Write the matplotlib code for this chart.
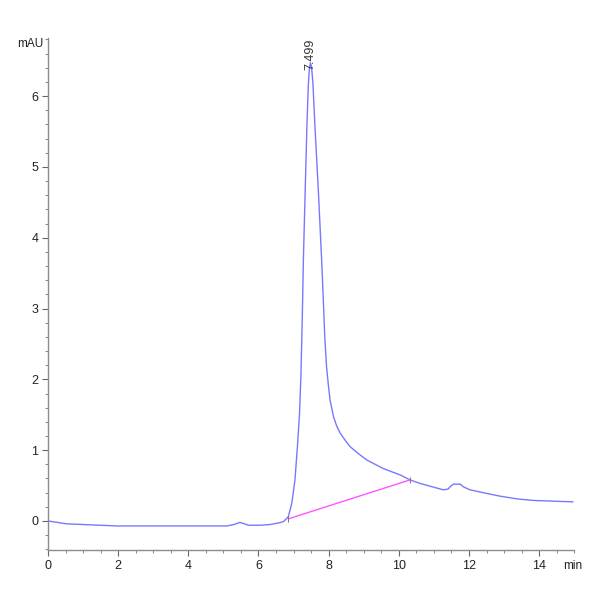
import matplotlib
matplotlib.use("Agg")
import matplotlib.pyplot as plt
from matplotlib.ticker import MultipleLocator, FixedLocator

# Chromatogram trace (time in min, signal in mAU)
time_min = [0.0, 0.53, 1.0, 1.96, 3.0, 3.39, 4.0, 5.1, 5.3, 5.47, 5.6, 5.71,
            6.05, 6.33, 6.55, 6.71, 6.85, 6.95, 7.04, 7.11, 7.17, 7.21, 7.25,
            7.28, 7.33, 7.38, 7.42, 7.45, 7.48, 7.51, 7.55, 7.61, 7.71, 7.80,
            7.85, 7.89, 7.94, 7.99, 8.04, 8.14, 8.23, 8.33, 8.47, 8.61, 8.85,
            9.09, 9.56, 10.04, 10.32, 10.61, 10.9, 11.27, 11.4, 11.5, 11.56,
            11.75, 11.85, 12.03, 12.4, 12.89, 13.4, 13.84, 14.4, 14.96]
signal_mau = [0.0, -0.04, -0.05, -0.07, -0.07, -0.07, -0.07, -0.07, -0.05, -0.02, -0.04, -0.06,
              -0.06, -0.05, -0.03, -0.01, 0.06, 0.25, 0.58, 1.05, 1.52, 2.05, 2.9,
              3.69, 4.63, 5.57, 6.15, 6.38, 6.47, 6.42, 6.2, 5.57, 4.63, 3.69,
              3.1, 2.6, 2.18, 1.93, 1.71, 1.47, 1.34, 1.24, 1.14, 1.05, 0.95,
              0.86, 0.74, 0.65, 0.58, 0.53, 0.49, 0.44, 0.45, 0.50, 0.52,
              0.52, 0.48, 0.44, 0.40, 0.35, 0.31, 0.29, 0.28, 0.27]

# Integration baseline
baseline_t = [6.85, 10.32]
baseline_y = [0.03, 0.58]

peak_rt = 7.499
peak_label = "7.499"
peak_height = 6.47

x_major = [0, 2, 4, 6, 8, 10, 12, 14]
y_major = [0, 1, 2, 3, 4, 5, 6]

FONT = ["Liberation Sans Narrow", "Liberation Sans", "DejaVu Sans"]
plt.rcParams["font.family"] = FONT

fig = plt.figure(figsize=(6, 6), dpi=100)
ax = fig.add_axes([0.08, 0.0833, 0.877, 0.8534])

ax.plot(time_min, signal_mau, color="#7878ff", lw=1.0, solid_joinstyle="round")
ax.plot(baseline_t, baseline_y, color="#ff55ff", lw=1.0)
ax.plot(baseline_t[0], baseline_y[0], marker="|", color="#808080", ms=5, mew=0.8)
ax.plot(baseline_t[1], baseline_y[1], marker="|", color="#808080", ms=5, mew=0.8)

ax.text(peak_rt - 0.03, peak_height - 0.1, peak_label, rotation=90, ha="center", va="bottom",
        fontsize=9, color="#333333")

ax.set_xlim(0, 15)
ax.set_ylim(-0.41, 6.82)

for s in ["top", "right"]:
    ax.spines[s].set_visible(False)
for s in ["left", "bottom"]:
    ax.spines[s].set_color("#8c8c8c")
    ax.spines[s].set_linewidth(1.0)

ax.xaxis.set_major_locator(FixedLocator(x_major))
ax.xaxis.set_minor_locator(MultipleLocator(0.5))
ax.yaxis.set_major_locator(FixedLocator(y_major))
ax.yaxis.set_minor_locator(MultipleLocator(0.2))
ax.tick_params(axis="both", which="major", direction="out", length=4, width=0.8,
               color="#666666", labelsize=9, labelcolor="#222222", pad=3)
ax.tick_params(axis="both", which="minor", direction="out", length=2.5, width=0.7,
               color="#888888")

ax.text(-0.12, 6.74, "mAU", ha="right", va="center",
        fontsize=8.5, color="#222222", clip_on=False)
ax.text(14.95, -0.55, "min", ha="center", va="top", fontsize=8.5, color="#222222",
        clip_on=False)

fig.savefig("out.png", dpi=100, facecolor="white")
